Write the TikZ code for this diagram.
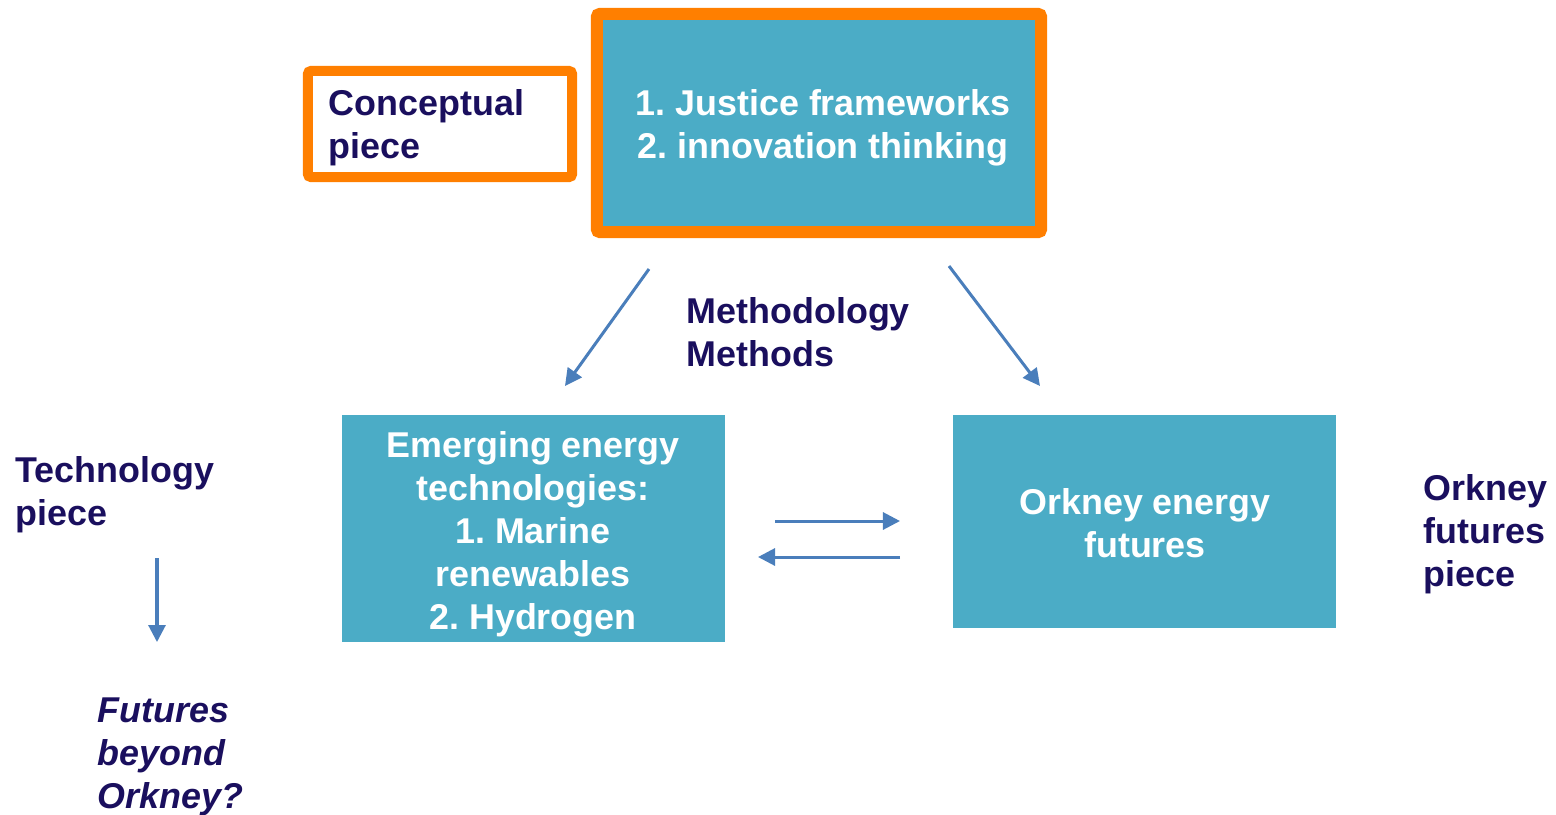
\documentclass[tikz,border=0pt]{standalone}
\usepackage{fontspec}
\setmainfont{Liberation Sans}
\usetikzlibrary{arrows.meta}
\definecolor{teal1}{HTML}{4BACC6}
\definecolor{orange1}{HTML}{FF7F00}
\definecolor{navy1}{HTML}{1A0F5E}
\definecolor{arrowblue}{HTML}{4A7EBB}
\begin{document}
\frenchspacing
\begin{tikzpicture}[x=0.01cm,y=-0.01cm,
  txt/.style={font=\fontsize{10.2pt}{12.2pt}\selectfont\bfseries, inner sep=0pt},
  navytxt/.style={txt, text=navy1, align=left, anchor=base west},
  whitetxt/.style={txt, text=white, align=center, anchor=base},
  tealbox/.style={fill=teal1, draw=none, inner sep=0pt},
  orangeframe/.style={draw=orange1, rounded corners=0.03cm, inner sep=0pt},
  arr/.style={draw=arrowblue, line width=0.03cm, -{Triangle[length=0.17cm,width=0.17cm]}}
]
\useasboundingbox (0,0) rectangle (1556,814);

% top boxes
\node[orangeframe, fill=white, line width=0.1cm, minimum width=2.64cm, minimum height=1.06cm] (concept) at (440,124) {};
\node[navytxt] (concepttxt) at (328,158) {Conceptual\\piece};

\node[orangeframe, fill=teal1, line width=0.12cm, minimum width=4.44cm, minimum height=2.18cm] (justice) at (819,123) {};
\node[whitetxt] (justicetxt) at (823,158) {1. Justice frameworks\\2. innovation thinking};

% middle boxes
\node[tealbox, minimum width=3.83cm, minimum height=2.27cm] (emerging) at (533.5,528.5) {};
\node[whitetxt] (emergingtxt) at (533,629) {Emerging energy\\technologies:\\1. Marine\\renewables\\2. Hydrogen};

\node[tealbox, minimum width=3.83cm, minimum height=2.13cm] (orkney) at (1144.5,521.5) {};
\node[whitetxt] (orkneytxt) at (1145,557) {Orkney energy\\futures};

% labels
\node[navytxt] (method) at (686,366) {Methodology\\Methods};
\node[navytxt] (tech) at (15,525) {Technology\\piece};
\node[navytxt] (orkpiece) at (1423,586) {Orkney\\futures\\piece};
\node[navytxt, font=\fontsize{10.2pt}{12.2pt}\selectfont\bfseries\itshape] (beyond) at (97,808) {Futures\\beyond\\Orkney?};

% arrow end points
\coordinate (la1) at (649,269);
\coordinate (la2) at (565,386);
\coordinate (ra1) at (949,266);
\coordinate (ra2) at (1040,386);
\coordinate (h1a) at (775,521);
\coordinate (h1b) at (900,521);
\coordinate (h2a) at (900,557);
\coordinate (h2b) at (758,557);
\coordinate (da) at (157,558);
\coordinate (db) at (157,642);

\draw[arr] (la1) -- (la2);
\draw[arr] (ra1) -- (ra2);
\draw[arr] (h1a) -- (h1b);
\draw[arr] (h2a) -- (h2b);
\draw[arr] (da) -- (db);
\end{tikzpicture}
\end{document}
